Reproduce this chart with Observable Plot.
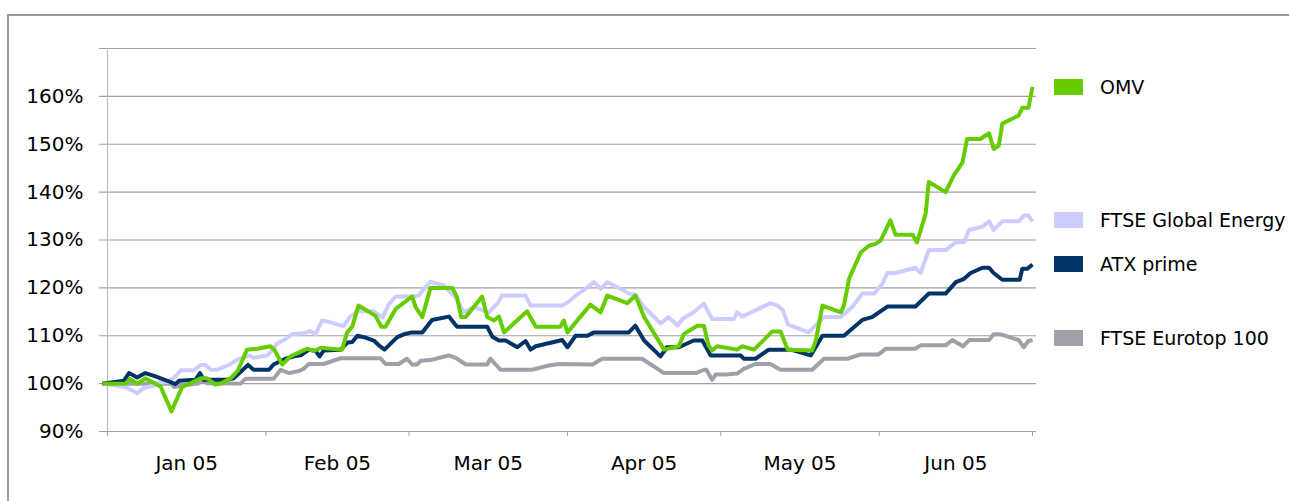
<!DOCTYPE html>
<html>
<head>
<meta charset="utf-8">
<script src="https://cdn.jsdelivr.net/npm/d3@7"></script>
<script src="https://cdn.jsdelivr.net/npm/@observablehq/plot@0.6"></script>
<style>
  body { margin: 0; background: #fff; font-family: "DejaVu Sans", sans-serif; }
  #wrap { position: relative; width: 1289px; height: 501px; overflow: hidden; background: #fff; }
  #frame { position: absolute; left: 7px; top: 14px; width: 1300px; height: 600px;
           border-left: 2px solid #9a9a9a; border-top: 2px solid #9a9a9a; }
  #chart { position: absolute; left: 0; top: 0; }
  .lg { position: absolute; left: 1054px; height: 20px; display: flex; align-items: center;
        font-size: 19px; color: #000; white-space: nowrap; }
  .lg .sw { display: inline-block; width: 29px; height: 16px; margin-right: 17px; }
</style>
</head>
<body>
<div id="wrap">
  <div id="frame"></div>
  <div id="chart"></div>
</div>
<script>
// ---- data (day offset from 1 Jan 2005, value in %) ----
const seriesNames = ["OMV", "FTSE Global Energy", "ATX prime", "FTSE Eurotop 100"];
const seriesColors = ["#66cc00", "#ccccff", "#003366", "#a0a0a8"];

const omv = [[-1,100],[3.5,100],[4.4,101],[5.8,100],[7.4,101.1],[10.4,99.4],[12.5,94.2],[14.6,99.3],[16.6,100.3],[18.2,101.1],[19.5,101.1],[21.1,99.8],[22.1,100],[24.1,101.1],[25.5,102.7],[27.3,107.1],[29.3,107.3],[31.9,107.8],[32.7,107],[34.2,104],[35.8,105.7],[39.1,107.3],[40.4,106.8],[41.7,107.5],[45.9,107.1],[46.9,110.7],[47.9,111.9],[49.1,116.3],[52.4,114.2],[53.6,111.9],[54.4,111.9],[56.4,115.6],[59.6,118.2],[60.3,116],[61.6,113.9],[63.2,120],[67.5,120],[68.4,118],[69.2,113.9],[70.1,113.9],[73.3,118.2],[74.3,113.9],[75.6,113.2],[76.6,114],[77.6,110.7],[82.1,115.1],[83.8,111.9],[88.6,111.9],[89.3,113.2],[90,110.7],[94.5,116.5],[96.5,114.9],[97.8,118.4],[101.7,116.8],[103.3,118.4],[105,113.9],[108.9,107.1],[111.8,107.8],[112.8,110.4],[115.4,112.1],[116.7,112.1],[117.6,108],[118.3,106.9],[119.3,107.8],[123.2,107.1],[124.2,107.8],[126.5,107.1],[130.1,110.9],[131.7,110.9],[133.1,107.1],[137.9,106.9],[138.6,109],[139.9,116.3],[143.5,114.9],[144.1,116.3],[145.1,121.9],[147.4,127.4],[149,128.8],[150.3,129.2],[151.3,129.9],[153.2,134.1],[154.2,131.1],[157.5,131.1],[158.4,129.5],[160.1,135.5],[160.7,142.1],[164,140],[165.6,143.5],[167.3,146.2],[168.2,151.1],[170.8,151.1],[172.5,152.3],[173.4,149],[174.4,149.7],[175.1,154.3],[178.3,156],[179,157.6],[180.2,157.6],[181,162]];

const globalEnergy = [[-1,100],[3.5,99.3],[5.8,98],[7.1,99.1],[9.1,99.6],[10.2,100.3],[11.7,100.3],[13.3,101.5],[14.3,102.8],[16.9,102.8],[18.2,103.9],[19.2,103.9],[20.2,102.9],[21.5,102.9],[24.1,104.1],[25.4,105],[27.8,105.9],[28.6,105.4],[31.3,105.9],[32.2,106.9],[33.2,108.4],[34.5,109.1],[36.1,110.3],[38.4,110.5],[39.7,111],[40.7,110.3],[42,113.2],[44.3,112.6],[46.2,112],[47.4,113.9],[48.9,115.1],[52.1,115.1],[53.8,113.8],[55,116.5],[56.4,118.2],[59.6,118.2],[60.9,118.4],[61.9,119.8],[63.2,121.3],[65.8,120.5],[68.1,118],[69.7,114.9],[71.7,116],[74.6,114.9],[76.3,116.7],[77.2,118.4],[81.8,118.4],[82.8,116.3],[89,116.3],[90.6,117.4],[91.6,118.4],[93.5,119.8],[95.2,121.2],[96.5,119.8],[97.8,121.2],[100.4,119.8],[102,118.8],[103.3,118.6],[105,116],[108.2,112.6],[109.8,113.9],[111.5,112.1],[112.5,113.5],[114.7,114.9],[116.7,116.7],[118.3,113.5],[122.6,113.5],[123.2,114.9],[124.2,114],[129.7,116.8],[131.1,116.3],[132.1,115.4],[133.2,112.3],[137.2,110.7],[140.2,113.9],[143.5,113.9],[145.7,116],[147.7,118.8],[150,118.8],[151.6,120.8],[152.6,123.1],[154.2,123.1],[158.1,124.2],[159.1,123.1],[160.7,127.9],[164,127.9],[166,129.5],[167.6,129.6],[168.6,132.1],[171.2,132.8],[172.5,133.9],[173.4,132.1],[175.1,133.9],[178.3,133.9],[179.3,135.1],[180.2,135.1],[181,133.9]];

const atxPrime = [[-1,100],[3.2,100.6],[4.2,102.2],[5.8,101.3],[7.4,102.2],[9.4,101.5],[11.7,100.6],[13.3,99.9],[14,100.6],[17.2,100.8],[18.1,102.2],[18.8,100.8],[23.4,100.8],[24.7,101.1],[26,102.4],[27.5,103.9],[28.6,102.9],[31.6,102.9],[32.5,104],[34.8,105.2],[36.5,105.7],[37.8,105.9],[39.4,107.1],[40.7,106.8],[41.5,105.7],[42.3,106.9],[45.6,107.1],[47,108.6],[47.9,108.7],[48.9,110],[50.2,109.7],[52.1,109],[53.1,108],[54.2,107.1],[56.7,109.7],[58,110.3],[59.6,110.7],[61.6,110.7],[63.5,113.3],[66.8,114],[68.4,111.9],[74.3,111.9],[75.3,109.8],[76.6,109],[77.9,109],[80.2,107.6],[81.8,108.9],[82.8,107.1],[83.8,107.8],[89,109.1],[90,107.6],[91.6,110],[93.9,110],[95.2,110.7],[102,110.7],[103.3,112.1],[105,109],[108.2,105.7],[109.5,107.6],[111.8,107.6],[114.7,109],[116.4,109],[118,105.9],[123.9,105.9],[124.5,105.2],[126.8,105.2],[129.4,107.1],[133.7,107.1],[137.6,105.9],[139.9,110],[144.1,110],[147.7,113.3],[149.6,113.9],[152.6,116.1],[158.1,116.1],[160.7,118.8],[164,118.8],[166,121.2],[167.6,121.9],[168.9,123.1],[171.2,124.2],[172.5,124.2],[173.4,123.1],[175.1,121.7],[178.5,121.7],[179,124],[180,124],[181,124.9]];

const eurotop = [[-1,100],[12.5,100],[13,99.3],[14.6,99.6],[17.6,100],[18.5,100.5],[19.5,100.1],[26,100],[27,101],[32.5,101],[33.9,102.9],[35.5,102.2],[37.6,102.7],[38.4,103.1],[39.4,104.1],[42.3,104.1],[45.6,105.3],[53.4,105.3],[54.4,104.1],[57,104.1],[58.6,105.2],[59.6,104],[60.6,104],[61.3,104.8],[63.5,105],[66.8,105.9],[68.1,105.4],[70.1,104],[74.3,104],[74.9,105.2],[76.9,102.9],[83.1,102.9],[86.4,103.8],[88.3,104.1],[94.9,104],[96.8,105.2],[104.6,105.2],[108.9,102.2],[115.1,102.2],[116.7,102.9],[117.2,102.9],[118.3,100.8],[119,101.9],[120.9,101.9],[123.2,102.1],[124.5,103.1],[126.8,104.1],[129.7,104.1],[131.7,102.9],[137.9,102.9],[140.2,105.2],[144.8,105.2],[147.4,106.1],[150.9,106.1],[152.3,107.3],[158.1,107.3],[159.1,108],[164,108],[165.3,109.1],[167.4,107.8],[168.6,109.1],[172.5,109.1],[173.4,110.3],[174.8,110.3],[178.3,109.1],[179.3,107.6],[180.2,108.9],[181,109.1]];

const yTickValues = [90, 100, 110, 120, 130, 140, 150, 160];
const gridValues = [90, 100, 110, 120, 130, 140, 150, 160, 170];
const monthLabels = ["Jan 05", "Feb 05", "Mar 05", "Apr 05", "May 05", "Jun 05"];

// ---- build ----
const start = Date.UTC(2005, 0, 1);
const toDate = d => new Date(start + d * 864e5);
const rows = s => s.map(([d, v]) => ({date: toDate(d), value: v}));

const monthStarts = d3.utcMonth.range(new Date(start), new Date(Date.UTC(2005, 6, 2)));
const midMonths = monthStarts.slice(0, -1).map((m, i) =>
  new Date((+m + +monthStarts[i + 1]) / 2));

const seriesData = [omv, globalEnergy, atxPrime, eurotop];
const drawOrder = [3, 1, 2, 0];

const chart = Plot.plot({
  width: 1289,
  height: 490,
  marginLeft: 107,
  marginRight: 257,
  marginTop: 48,
  marginBottom: 59,
  x: {type: "utc", domain: [new Date(start), toDate(181)], label: null},
  y: {domain: [90, 170], label: null},
  style: {fontFamily: "DejaVu Sans", fontSize: "20px", color: "#000", background: "transparent", overflow: "visible"},
  marks: [
    Plot.ruleY(gridValues, {stroke: "#a0a0a0", strokeWidth: 1.2, insetLeft: -8, insetRight: -4}),
    Plot.ruleX([new Date(start)], {stroke: "#bdbdbd", strokeWidth: 1.2, insetBottom: -5}),
    Plot.axisY({ticks: yTickValues, tickSize: 0, tickPadding: 24, fontSize: 20, label: null,
                tickFormat: d => d + "%"}),
    Plot.axisX({ticks: monthStarts, tickSize: 5, tickFormat: () => "", stroke: "#a0a0a0", label: null}),
    Plot.axisX({ticks: midMonths, tickSize: 0, tickPadding: 24, fontSize: 20, label: null,
                tickFormat: d => monthLabels[d.getUTCMonth()]}),
    ...drawOrder.map(i => Plot.line(rows(seriesData[i]), {
      x: "date", y: "value", stroke: seriesColors[i], strokeWidth: 4,
      strokeLinejoin: "round", strokeLinecap: "butt"
    }))
  ]
});
document.getElementById("chart").appendChild(chart);

// legend
const legendCenters = [87, 220, 264, 338];
const wrap = document.getElementById("wrap");
seriesNames.forEach((name, i) => {
  const el = document.createElement("div");
  el.className = "lg";
  el.style.top = (legendCenters[i] - 10) + "px";
  const sw = document.createElement("span");
  sw.className = "sw";
  sw.style.background = seriesColors[i];
  el.appendChild(sw);
  el.appendChild(document.createTextNode(name));
  wrap.appendChild(el);
});
</script>
</body>
</html>
